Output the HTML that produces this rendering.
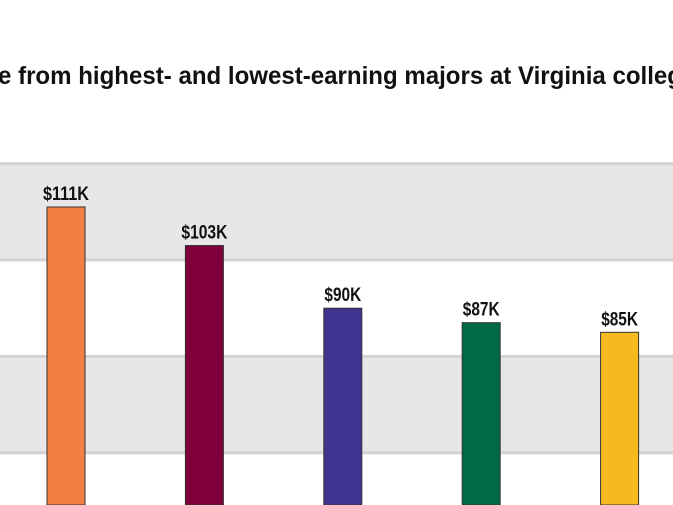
<!DOCTYPE html>
<html><head><meta charset="utf-8"><style>
html,body{margin:0;padding:0;background:#fff;width:673px;height:505px;overflow:hidden}
svg{display:block;font-family:"Liberation Sans",sans-serif}
</style></head><body>
<svg id="chart" width="673" height="505" viewBox="0 0 673 505">
<text x="-2" y="84" font-size="25" font-weight="bold" fill="#111" textLength="684" lengthAdjust="spacingAndGlyphs">e from highest- and lowest-earning majors at Virginia colleg</text>
<g id="grid"></g>
<g id="bars"></g>
</svg>
<script>
const categories=["Major 1","Major 2","Major 3","Major 4","Major 5"];
const values=[111,103,90,87,85];
const valueLabels=["$111K","$103K","$90K","$87K","$85K"];
const colors=["#f47f43","#7f003a","#3f3490","#006a45","#f5ba1e"];
const gridTicks=[20,40,60,80,100,120];
const NS="http://www.w3.org/2000/svg";
function y(v){return 742-v*4.82;}
function x(i){return 66+i*138.4;}
const grid=document.getElementById("grid");
gridTicks.forEach((t,k)=>{
  const yTop=y(t+20), yBot=y(t);
  if(k%2===0){
    const b=document.createElementNS(NS,"rect");
    
    
    b.setAttribute("x",0);b.setAttribute("y",yTop);b.setAttribute("width",673);b.setAttribute("height",yBot-yTop);b.setAttribute("fill","#e7e7e7");
    grid.appendChild(b);
  }
  const l=document.createElementNS(NS,"rect");
  
  
  l.setAttribute("x",0);l.setAttribute("y",yBot-1.5);l.setAttribute("width",673);l.setAttribute("height",3);l.setAttribute("fill","#d3d3d3");
  grid.appendChild(l);
});
const bars=document.getElementById("bars");
values.forEach((v,i)=>{
  const r=document.createElementNS(NS,"rect");
  
  
  r.setAttribute("x",x(i)-19);r.setAttribute("y",y(v));r.setAttribute("width",38);r.setAttribute("height",Math.max(0,505-y(v)));
  r.setAttribute("fill",colors[i]);r.setAttribute("stroke","#333");r.setAttribute("stroke-width","1");
  bars.appendChild(r);
  const t=document.createElementNS(NS,"text");
  
  
  t.setAttribute("x",x(i));t.setAttribute("y",y(v)-7);t.setAttribute("text-anchor","middle");
  t.setAttribute("font-size","19");t.setAttribute("font-weight","bold");t.setAttribute("fill","#111");
  t.setAttribute("textLength",valueLabels[i].length*9.2);t.setAttribute("lengthAdjust","spacingAndGlyphs");
  t.textContent=valueLabels[i];
  bars.appendChild(t);
});
</script>
</body></html>
